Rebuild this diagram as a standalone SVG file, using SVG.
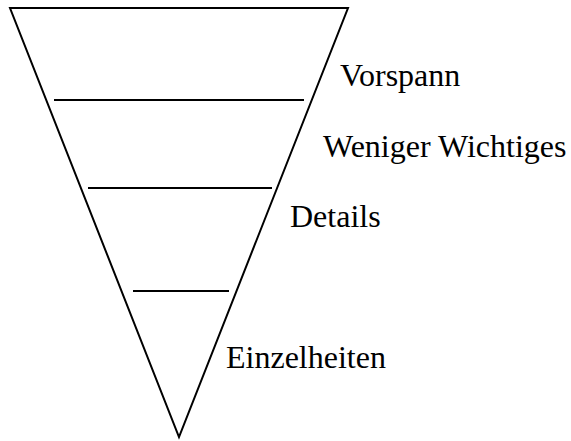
<svg xmlns="http://www.w3.org/2000/svg" width="571" height="441" viewBox="0 0 571 441">
<style>
.s{fill:none;stroke:#000;stroke-width:2}
text{font-family:"Liberation Serif","Times New Roman",serif;font-size:32px;fill:#000}
</style>
<rect width="571" height="441" fill="#fff"/>
<g id="funnel"><polygon class="s" points="10,8 348,8 179,437"/></g>
<g id="connectors">
<line class="s" x1="54" y1="100" x2="304" y2="100"/>
<line class="s" x1="88" y1="188" x2="272" y2="188"/>
<line class="s" x1="133" y1="291" x2="229" y2="291"/>
</g>
<g id="vorspann"><text x="340" y="86">Vorspann</text></g>
<g id="weniger"><text x="323" y="157">Weniger Wichtiges</text></g>
<g id="details"><text x="290" y="227">Details</text></g>
<g id="einzelheiten"><text x="226" y="368">Einzelheiten</text></g>
</svg>
